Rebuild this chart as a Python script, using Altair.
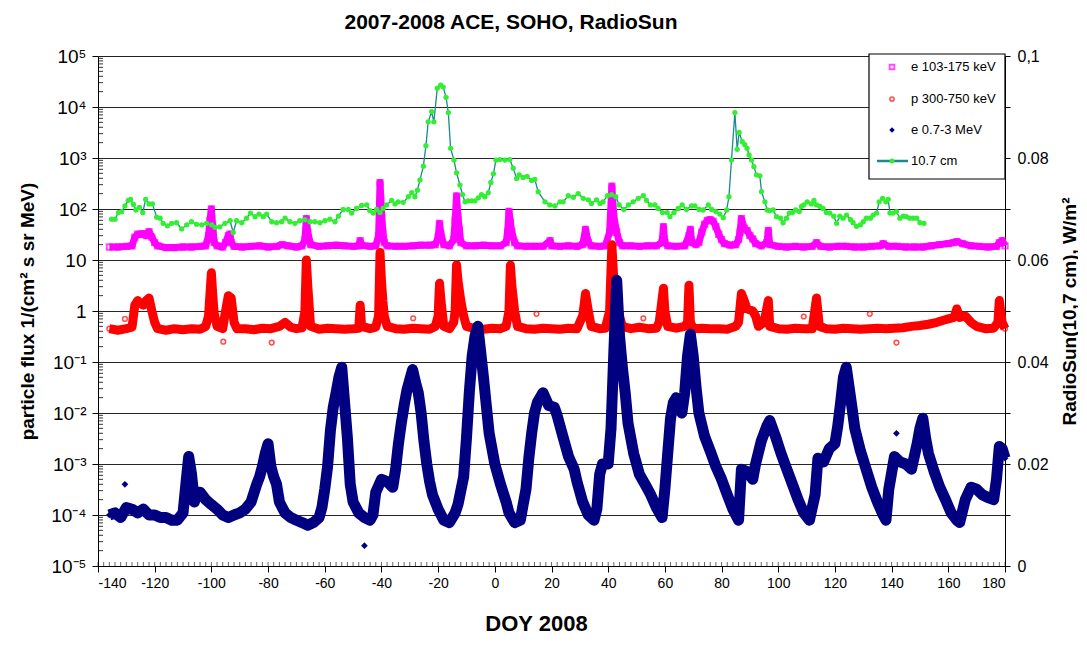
import altair as alt
import pandas as pd

TITLE = "2007-2008 ACE, SOHO, RadioSun"
X_TITLE = "DOY 2008"
Y_TITLE = "particle flux 1/(cm² s sr MeV)"
Y2_TITLE = "RadioSun(10,7 cm), W/m²"
LEG_LABELS = ["e 103-175 keV", "p 300-750 keV", "e 0.7-3 MeV", "10.7 cm"]

X_TICKS = [-140, -120, -100, -80, -60, -40, -20, 0, 20, 40, 60, 80, 100, 120, 140, 160, 180]
Y_TICKS = [1e-5, 1e-4, 1e-3, 1e-2, 1e-1, 1, 10, 1e2, 1e3, 1e4, 1e5]
Y_LABELS = ["10⁻⁵", "10⁻⁴", "10⁻³", "10⁻²", "10⁻¹", "1", "10", "10²", "10³", "10⁴", "10⁵"]
Y2_TICKS = [0, 0.01, 0.02, 0.03, 0.04, 0.05, 0.06, 0.07, 0.08, 0.09, 0.1]

# e 103-175 keV  (day, flux)
ELEC_LOW = [(-136,18),(-133,18),(-130,18.5),(-128,19),(-127,28),(-126,32),(-125,32),(-124,33),(-123,30),
    (-122,36),(-121,28),(-120,22),(-119,19),(-116,17.5),(-113,17.5),(-110,18),(-107,18),(-104,18.5),
    (-102,19),(-101,30),(-100.5,60),(-100,100),(-99.5,45),(-99,22),(-98,19),(-96,18),(-95,22),(-94,30),
    (-93.5,32),(-93,22),(-92,18.5),(-89,18),(-86,18.5),(-83,19),(-80,18),(-77,18.5),(-75,20),(-73,19),
    (-70,18),(-68,19),(-67,25),(-66.5,65),(-66,35),(-65,20),(-62,18.5),(-59,19),(-56,19.5),(-53,19),
    (-50,18.5),(-48,19),(-47.5,24),(-47,19.5),(-44,18.5),(-42,19),(-41,30),(-40.5,330),(-40,100),
    (-39.5,35),(-39,22),(-38,19),(-35,18.5),(-32,18.5),(-29,19),(-26,19.5),(-23,19.5),(-21,20),(-20,28),
    (-19.5,52),(-19,32),(-18,20),(-16,19),(-14.5,25),(-14,60),(-13.5,180),(-13,70),(-12.5,40),(-12,22),
    (-10,19),(-7,19),(-4,19.5),(-1,19),(2,19),(4,22),(4.5,35),(5,90),(5.5,55),(6,35),(7,22),(8,19),
    (11,18.5),(14,18.5),(17,18.5),(19.5,24),(20,19),(23,18.5),(26,19),(29,18.5),(31,20),(32,40),(33,22),
    (34,19),(37,18.5),(39,19),(40.5,35),(41.3,280),(42,70),(43,35),(44,22),(45,19),(48,19),(51,18.5),
    (54,19),(57,19),(59,22),(59.5,45),(60,22),(61,19),(64,18.5),(67,19),(68.5,30),(69,40),(69.5,22),
    (71,20),(72,22),(73,35),(74,50),(75,60),(76,62),(77,58),(78,45),(79,32),(80,25),(81,21),(83,19.5),
    (85,20),(86,25),(86.5,35),(87,65),(88,42),(89,38),(90,30),(91,26),(92,21),(94,19),(96,22),(96.5,38),
    (97,20),(100,18.5),(103,18),(106,18.5),(109,18),(112,18.5),(113.5,22),(115,18.5),(118,18),(121,18.5),
    (124,18.5),(127,18),(130,18),(133,18.5),(136,19),(137,21),(139,18.5),(142,18.5),(145,18),(148,18),
    (151,18),(154,19),(157,20),(160,21),(162,22),(163,23),(165,21),(168,19),(171,18.5),(174,18),
    (177,18.5),(178,22),(179,24),(180,19)]

# p 300-750 keV  (day, flux)
PROTON = [(-136,0.45),(-133,0.42),(-130,0.45),(-128,0.48),(-127,1.3),(-126,1.6),(-125,1.4),(-124,1.3),
    (-123,1.6),(-122,1.8),(-121,1.0),(-120,0.6),(-119,0.45),(-116,0.42),(-113,0.45),(-110,0.43),(-107,0.45),
    (-104,0.44),(-102,0.5),(-101,0.8),(-100,5.6),(-99.5,2.0),(-99,0.9),(-98,0.5),(-96,0.45),(-95,1.0),
    (-94,2.0),(-93,1.8),(-92,0.6),(-91,0.45),(-88,0.45),(-85,0.43),(-82,0.46),(-79,0.45),(-76,0.5),
    (-74,0.6),(-72,0.48),(-70,0.45),(-68,0.47),(-67,1.0),(-66.5,10),(-66,3.2),(-65,0.5),(-62,0.44),
    (-59,0.46),(-56,0.45),(-53,0.44),(-50,0.45),(-48,0.46),(-47.5,1.3),(-47,0.5),(-44,0.45),(-42,0.48),
    (-41,0.8),(-40.5,14),(-40,4.0),(-39.5,1.6),(-39,0.8),(-38,0.5),(-35,0.45),(-32,0.44),(-29,0.46),
    (-26,0.45),(-23,0.44),(-21,0.5),(-20,0.8),(-19.5,3.5),(-19,1.6),(-18,0.5),(-16,0.45),(-14.5,0.6),
    (-14,1.0),(-13.5,8.0),(-13,4.0),(-12,1.6),(-11,0.8),(-10,0.5),(-7,0.45),(-4,0.44),(-1,0.46),(2,0.45),
    (4,0.5),(5,1.0),(5.5,7.9),(6,3.2),(7,1.0),(8,0.5),(11,0.45),(14,0.44),(17,0.46),(20,0.45),(23,0.44),
    (26,0.46),(29,0.45),(31,0.8),(32,2.2),(33,1.0),(34,0.5),(37,0.45),(39,0.46),(40.5,1.0),(41.3,20),
    (42,4.0),(43,1.6),(44,0.8),(45,0.5),(48,0.45),(51,0.48),(54,0.45),(57,0.46),(58,0.6),(59.5,2.8),
    (60,1.0),(61,0.5),(64,0.46),(67,0.5),(68,0.6),(68.5,3.2),(69,0.6),(70,0.45),(73,0.46),(76,0.45),
    (79,0.45),(82,0.44),(85,0.5),(86,0.6),(87,2.2),(88,1.6),(89,1.1),(91,1.0),(92,0.8),(93,0.5),(95,0.6),
    (96.5,1.6),(97,0.5),(100,0.45),(103,0.44),(106,0.46),(109,0.45),(112,0.45),(113.5,1.8),(114.5,0.5),
    (117,0.45),(120,0.44),(123,0.46),(126,0.45),(129,0.44),(132,0.45),(135,0.46),(138,0.45),(141,0.46),
    (144,0.47),(147,0.5),(150,0.52),(153,0.55),(156,0.6),(158,0.65),(160,0.7),(162,0.75),(163,1.1),
    (164,0.75),(166,0.8),(168,0.6),(170,0.5),(173,0.45),(176,0.46),(177.5,0.6),(178,1.6),(179,0.6),(180,0.45)]
PROTON_SCATTER = [(-130.5,0.7),(-95.8,0.25),(-78.7,0.24),(-28.8,0.72),(14.7,0.88),(52.4,0.72),
    (109,0.78),(132.3,0.88),(141.7,0.24)]

# e 0.7-3 MeV  (day, flux)
ELEC_HIGH = [(-136,1.0e-4),(-134,1.1e-4),(-132,8.9e-5),(-130,1.4e-4),(-128,1.3e-4),(-126,1.1e-4),
    (-124,1.3e-4),(-122,1.0e-4),(-120,1.0e-4),(-118,8.9e-5),(-116,8.9e-5),(-114,7.9e-5),(-112,7.9e-5),
    (-110,1.1e-4),(-109,4.0e-4),(-108,1.4e-3),(-107,6.3e-4),(-106,1.8e-4),(-105,2.8e-4),(-104,2.8e-4),
    (-102,2.0e-4),(-100,1.6e-4),(-98,1.3e-4),(-96,1.0e-4),(-94,8.9e-5),(-92,1.0e-4),(-90,1.1e-4),
    (-88,1.3e-4),(-86,1.8e-4),(-84,4.0e-4),(-83,5.6e-4),(-82,8.9e-4),(-81,1.6e-3),(-80,2.5e-3),(-79,8.9e-4),
    (-78,5.6e-4),(-77,4.0e-4),(-76,1.8e-4),(-74,1.1e-4),(-72,8.9e-5),(-70,7.9e-5),(-68,7.1e-5),(-66,6.3e-5),
    (-64,7.1e-5),(-62,8.9e-5),(-61,1.4e-4),(-60,3.2e-4),(-59,8.9e-4),(-58,4.5e-3),(-57,1.3e-2),(-56,2.5e-2),
    (-55,5.0e-2),(-54,7.9e-2),(-53,1.6e-2),(-52,3.2e-3),(-51,4.0e-4),(-50,1.8e-4),(-48,1.1e-4),(-46,8.9e-5),
    (-44,7.9e-5),(-43,1.0e-4),(-42,2.8e-4),(-40,5.0e-4),(-38,4.5e-4),(-36,3.5e-4),(-35,7.9e-4),(-34,2.5e-3),
    (-33,6.3e-3),(-32,1.4e-2),(-31,2.8e-2),(-30,4.5e-2),(-29,7.1e-2),(-28,4.0e-2),(-27,2.5e-2),(-26,1.0e-2),
    (-25,2.8e-3),(-24,1.0e-3),(-23,4.5e-4),(-22,2.5e-4),(-20,1.3e-4),(-18,7.9e-5),(-16,7.1e-5),(-14,1.1e-4),
    (-13,1.6e-4),(-11,5.6e-4),(-10,3.2e-3),(-9,2.5e-2),(-8,1.3e-1),(-7,3.2e-1),(-6,5.0e-1),(-5,1.6e-1),
    (-4,5.0e-2),(-3,1.4e-2),(-2,4.0e-3),(0,1.0e-3),(2,4.0e-4),(4,1.8e-4),(5,1.1e-4),(7,7.1e-5),(9,7.9e-5),
    (10,1.6e-4),(11,3.2e-4),(12,1.3e-3),(13,4.0e-3),(14,1.0e-2),(15,1.6e-2),(17,2.5e-2),(19,1.4e-2),
    (21,1.3e-2),(22,8.9e-3),(24,3.5e-3),(26,1.4e-3),(28,7.9e-4),(29,4.5e-4),(31,1.8e-4),(33,1.0e-4),
    (35,7.9e-5),(36,1.3e-4),(37,6.3e-4),(38,1.0e-3),(40,1.0e-3),(41,5.0e-3),(42,1.6e-1),(43,4.0),
    (44,3.2e-1),(45,7.9e-2),(46,2.5e-2),(47,6.3e-3),(49,1.6e-3),(51,6.3e-4),(53,4.0e-4),(55,2.5e-4),
    (57,1.4e-4),(59,8.9e-5),(60,3.2e-4),(61,1.6e-3),(62,7.9e-3),(63,1.6e-2),(64,2.0e-2),(65,1.3e-2),
    (66,1.0e-2),(67,2.5e-2),(68,1.3e-1),(69,3.5e-1),(70,1.3e-1),(71,3.2e-2),(72,1.0e-2),(74,3.5e-3),
    (76,1.8e-3),(78,8.9e-4),(80,5.0e-4),(82,2.5e-4),(84,1.3e-4),(86,7.9e-5),(87,7.9e-4),(89,7.1e-4),
    (91,5.0e-4),(92,1.0e-3),(94,2.8e-3),(96,5.6e-3),(97,7.1e-3),(99,3.5e-3),(101,1.6e-3),(103,7.9e-4),
    (105,4.0e-4),(107,2.0e-4),(109,1.1e-4),(111,7.9e-5),(113,2.5e-4),(114,1.3e-3),(116,1.1e-3),(118,2.0e-3),
    (120,2.5e-3),(121,5.6e-3),(122,1.6e-2),(123,5.0e-2),(124,7.9e-2),(125,3.2e-2),(126,1.3e-2),(127,5.0e-3),
    (129,1.8e-3),(131,7.9e-4),(133,3.5e-4),(135,1.8e-4),(137,1.0e-4),(138,7.9e-5),(139,3.2e-4),(141,1.4e-3),
    (143,1.1e-3),(145,1.0e-3),(147,7.9e-4),(149,2.5e-3),(150,5.0e-3),(151,7.9e-3),(152,3.2e-3),(153,1.6e-3),
    (155,7.1e-4),(157,3.5e-4),(159,2.0e-4),(161,1.1e-4),(163,7.9e-5),(164,7.1e-5),(166,2.0e-4),(168,3.5e-4),
    (170,3.2e-4),(172,2.5e-4),(174,2.2e-4),(176,2.0e-4),(177,5.0e-4),(178,2.2e-3),(179,2.0e-3),(180,1.3e-3)]
ELEC_HIGH_SCATTER = [(-130.5,4.0e-4),(-46,2.5e-5),(141.7,4.0e-3),(43.5,1.0)]

# 10.7 cm radio flux (day, W/m^2)
RADIO = [(-135.2,0.0680),(-134.0,0.0680),(-132.8,0.0693),(-131.6,0.0695),(-130.5,0.0706),(-129.3,0.0717),
    (-128.5,0.0719),(-127.5,0.0709),(-126.6,0.0698),(-125.4,0.0703),(-124.2,0.0693),(-123.2,0.0719),
    (-122.0,0.0710),(-120.8,0.0710),(-119.3,0.0684),(-118.1,0.0682),(-117.0,0.0672),(-115.5,0.0667),
    (-114.0,0.0672),(-112.3,0.0673),(-110.5,0.0661),(-108.7,0.0669),(-107.0,0.0675),(-105.2,0.0670),
    (-103.4,0.0669),(-101.7,0.0672),(-99.9,0.0669),(-98.7,0.0664),(-97.0,0.0665),(-95.2,0.0672),
    (-93.4,0.0677),(-92.3,0.0654),(-91.1,0.0677),(-89.3,0.0673),(-87.6,0.0682),(-86.2,0.0692),
    (-84.6,0.0685),(-83.2,0.0690),(-81.7,0.0685),(-80.5,0.0690),(-78.7,0.0675),(-77.0,0.0673),
    (-75.2,0.0675),(-74.0,0.0682),(-72.3,0.0675),(-70.5,0.0672),(-68.8,0.0677),(-67.0,0.0679),
    (-65.2,0.0675),(-63.5,0.0675),(-61.7,0.0673),(-59.9,0.0677),(-58.2,0.0680),(-56.4,0.0675),
    (-55.2,0.0686),(-53.5,0.0699),(-51.7,0.0699),(-50.5,0.0692),(-48.8,0.0701),(-47.0,0.0707),
    (-45.2,0.0708),(-44.1,0.0697),(-42.9,0.0692),(-41.7,0.0699),(-40.5,0.0693),(-39.4,0.0701),
    (-38.2,0.0708),(-36.4,0.0717),(-35.2,0.0710),(-34.1,0.0714),(-32.3,0.0713),(-30.5,0.0724),
    (-29.3,0.0732),(-28.2,0.0724),(-27.3,0.0737),(-26.4,0.0757),(-25.2,0.0784),(-24.3,0.0824),
    (-23.5,0.0871),(-22.3,0.0891),(-21.5,0.0871),(-20.3,0.0937),(-19.1,0.0943),(-18.2,0.0939),
    (-17.2,0.0919),(-16.4,0.0889),(-15.6,0.0819),(-14.4,0.0796),(-13.5,0.0771),(-12.3,0.0747),
    (-11.4,0.0728),(-10.5,0.0714),(-9.4,0.0716),(-8.2,0.0716),(-7.0,0.0716),(-5.8,0.0722),(-4.7,0.0728),
    (-3.5,0.0724),(-2.3,0.0732),(-1.4,0.0752),(-0.5,0.0769),(0.4,0.0796),(1.8,0.0797),(3.6,0.0796),
    (5.3,0.0797),(6.5,0.0780),(7.7,0.0760),(8.6,0.0767),(10.0,0.0762),(11.4,0.0764),(13.0,0.0756),
    (14.1,0.0758),(15.3,0.0734),(17.7,0.0714),(19.4,0.0708),(21.2,0.0706),(23.0,0.0714),(24.1,0.0714),
    (25.9,0.0726),(27.7,0.0723),(29.4,0.0730),(31.2,0.0721),(33.0,0.0718),(34.1,0.0711),(35.9,0.0718),
    (37.1,0.0711),(38.2,0.0714),(39.7,0.0726),(41.2,0.0728),(42.7,0.0724),(43.9,0.0708),(45.5,0.0699),
    (47.1,0.0708),(48.8,0.0714),(50.6,0.0721),(52.4,0.0726),(53.5,0.0717),(54.9,0.0708),(56.5,0.0708),
    (57.6,0.0701),(59.2,0.0693),(60.8,0.0693),(61.8,0.0685),(63.2,0.0693),(64.7,0.0701),(66.1,0.0708),
    (67.6,0.0699),(69.4,0.0706),(70.6,0.0706),(72.1,0.0699),(73.5,0.0698),(75.3,0.0708),(76.5,0.0699),
    (78.0,0.0695),(79.4,0.0690),(80.6,0.0683),(81.8,0.0698),(82.6,0.0724),(83.5,0.0796),(84.7,0.0889),
    (85.5,0.0817),(86.2,0.0850),(87.3,0.0832),(88.2,0.0826),(89.0,0.0819),(89.7,0.0806),(90.6,0.0796),
    (91.4,0.0783),(92.3,0.0767),(93.5,0.0765),(94.1,0.0734),(95.3,0.0714),(96.1,0.0698),(97.0,0.0697),
    (98.2,0.0698),(99.4,0.0685),(100.8,0.0682),(101.7,0.0673),(102.9,0.0682),(103.9,0.0692),(105.0,0.0693),
    (106.1,0.0698),(107.4,0.0695),(108.2,0.0705),(109.0,0.0708),(110.2,0.0714),(111.7,0.0710),
    (112.6,0.0717),(113.5,0.0708),(114.7,0.0705),(115.8,0.0701),(117.0,0.0693),(118.2,0.0692),
    (119.6,0.0686),(120.6,0.0672),(121.7,0.0686),(122.9,0.0682),(124.1,0.0688),(125.5,0.0679),
    (126.4,0.0673),(127.6,0.0666),(129.0,0.0669),(130.0,0.0675),(131.1,0.0682),(132.5,0.0682),
    (133.5,0.0688),(134.7,0.0692),(135.6,0.0714),(136.8,0.0721),(138.0,0.0714),(138.8,0.0719),
    (139.4,0.0692),(140.5,0.0692),(141.7,0.0695),(142.9,0.0682),(144.1,0.0686),(145.2,0.0685),
    (146.4,0.0682),(147.6,0.0682),(148.8,0.0682),(150.0,0.0673),(151.4,0.0672)]

MAGENTA = "#ff00ff"
RED = "#ff0000"
NAVY = "#000080"
GREEN = "#33ee33"
TEAL = "#1a8a8a"
FONT = "Liberation Sans"
W, H = 907, 510


def frame(pairs, col):
    return pd.DataFrame(pairs, columns=["day", col])


x_axis = alt.Axis(values=X_TICKS, labelExpr="'' + datum.value", tickSize=6, labelPadding=4,
                  grid=False, domainColor="black", tickColor="black", labelColor="black",
                  labelFontSize=14, labelFont=FONT, title=X_TITLE, titleFont=FONT,
                  titleFontSize=22, titleFontWeight="bold", titleColor="black",
                  titleX=438, titleY=57, titleAlign="center", titleBaseline="middle")
x_scale = alt.Scale(domain=[-140, 180], nice=False, zero=False)
X = alt.X("day:Q", scale=x_scale, axis=x_axis)

label_arr = "[" + ",".join("'" + s + "'" for s in Y_LABELS) + "]"
y_axis = alt.Axis(values=Y_TICKS, labelExpr=label_arr + "[round(log(datum.value)/LN10)+5]",
                  tickSize=6, labelPadding=6, grid=True, gridColor="black", gridOpacity=0.85,
                  domainColor="black", tickColor="black", labelColor="black", labelFontSize=19,
                  labelFont=FONT, title=Y_TITLE, titleFont=FONT, titleFontSize=19,
                  titleFontWeight="bold", titleColor="black", titleAngle=270, titleX=-71,
                  titleY=255, titleAlign="center", titleBaseline="middle")
y_scale = alt.Scale(type="log", domain=[1e-5, 1e5], nice=False)
Y = alt.Y("flux:Q", scale=y_scale, axis=y_axis)

r_axis = alt.Axis(orient="right", values=Y2_TICKS,
                  labelExpr="datum.value == 0 ? '0' : (datum.value > 0.099 ? '0,1' : "
                            "(round(datum.value*100) % 2 == 0 ? format(datum.value, '.2f') : ''))",
                  tickSize=5, labelPadding=7, grid=False, domainColor="black", tickColor="black",
                  labelColor="black", labelFontSize=16, labelFont=FONT, title=Y2_TITLE,
                  titleFont=FONT, titleFontSize=19, titleFontWeight="bold", titleColor="black",
                  titleAngle=270, titleX=64, titleY=255, titleAlign="center", titleBaseline="middle")
r_scale = alt.Scale(domain=[0, 0.1], nice=False, zero=True)

# minor tick decorations
minor_y = pd.DataFrame({"flux": [k * 10.0 ** e for e in range(-5, 5) for k in range(2, 10)]})
minor_x = pd.DataFrame({"day": list(range(-140, 181, 2))})

left_minor = alt.Chart(minor_y).mark_rule(color="black", strokeWidth=0.8).encode(
    y=Y, x=alt.value(0), x2=alt.value(5))
bottom_minor = alt.Chart(minor_x).mark_rule(color="black", strokeWidth=0.6).encode(
    x=X, y=alt.value(H - 4), y2=alt.value(H))

e_low = frame(ELEC_LOW, "flux")
prot = frame(PROTON, "flux")
prot_sc = frame(PROTON_SCATTER, "flux")
e_high = frame(ELEC_HIGH, "flux")
e_high_sc = frame(ELEC_HIGH_SCATTER, "flux")
radio = frame(RADIO, "w")

mag_line = alt.Chart(e_low).mark_line(color=MAGENTA, strokeWidth=7, strokeJoin="round").encode(x=X, y=Y)
mag_pts = alt.Chart(e_low).mark_point(shape="square", filled=False, color=MAGENTA, size=28,
                                      strokeWidth=2).encode(x=X, y=Y)
red_line = alt.Chart(prot).mark_line(color=RED, strokeWidth=9, strokeJoin="round").encode(x=X, y=Y)
red_pts = alt.Chart(pd.concat([prot, prot_sc])).mark_point(shape="circle", filled=False, color=RED,
                                                            size=22, strokeWidth=1.5).encode(x=X, y=Y)
navy_line = alt.Chart(e_high).mark_line(color=NAVY, strokeWidth=11, strokeJoin="round").encode(x=X, y=Y)
navy_pts = alt.Chart(pd.concat([e_high, e_high_sc])).mark_point(shape="diamond", filled=True, color=NAVY,
                                                                  size=45, opacity=1).encode(x=X, y=Y)

# legend
one = pd.DataFrame({"k": [0]})
LX, TX = 794, 813
LY = [11, 43, 74, 105]
leg_box = alt.Chart(one).mark_rect(fill="white", stroke="black", strokeWidth=1.2).encode(
    x=alt.value(771), x2=alt.value(W), y=alt.value(-2), y2=alt.value(123))
leg_items = [leg_box]
leg_items.append(alt.Chart(one).mark_point(shape="square", filled=False, color=MAGENTA, size=22,
                                           strokeWidth=2).encode(x=alt.value(LX), y=alt.value(LY[0])))
leg_items.append(alt.Chart(one).mark_point(shape="circle", filled=False, color=RED, size=18,
                                           strokeWidth=1.5).encode(x=alt.value(LX), y=alt.value(LY[1])))
leg_items.append(alt.Chart(one).mark_point(shape="diamond", filled=True, color=NAVY, size=30,
                                           opacity=1).encode(x=alt.value(LX), y=alt.value(LY[2])))
leg_items.append(alt.Chart(one).mark_rule(color=TEAL, strokeWidth=2.5).encode(
    x=alt.value(779), x2=alt.value(810), y=alt.value(LY[3])))
leg_items.append(alt.Chart(one).mark_point(shape="circle", filled=True, color=GREEN, size=25,
                                           opacity=1).encode(x=alt.value(LX), y=alt.value(LY[3])))
for i, lab in enumerate(LEG_LABELS):
    leg_items.append(alt.Chart(one).mark_text(text=lab, align="left", baseline="middle", fontSize=13,
                                              font=FONT, color="black").encode(
        x=alt.value(TX), y=alt.value(LY[i])))

title_mark = alt.Chart(one).mark_text(text=TITLE, align="center", baseline="middle", fontSize=21,
                                      fontWeight="bold", font=FONT, color="black").encode(
    x=alt.value(413), y=alt.value(-33))

left = alt.layer(left_minor, bottom_minor, mag_line, mag_pts, red_line, red_pts, navy_line, navy_pts)

R = alt.Y("w:Q", scale=r_scale, axis=r_axis)
green_line = alt.Chart(radio).mark_line(color=TEAL, strokeWidth=1.3).encode(x=X, y=R)
green_pts = alt.Chart(radio).mark_point(shape="circle", filled=True, color=GREEN, size=28,
                                        opacity=1).encode(x=X, y=R)
right = alt.layer(green_line, green_pts, *leg_items, title_mark)

chart = alt.layer(left, right).resolve_scale(y="independent").properties(
    width=W, height=H,
    padding={"left": 90, "top": 48, "right": 73, "bottom": 72},
    autosize=alt.AutoSizeParams(type="none"),
).configure_view(stroke=None).configure(font=FONT)

chart.save("out.html", embed_options={"renderer": "svg", "actions": False})
